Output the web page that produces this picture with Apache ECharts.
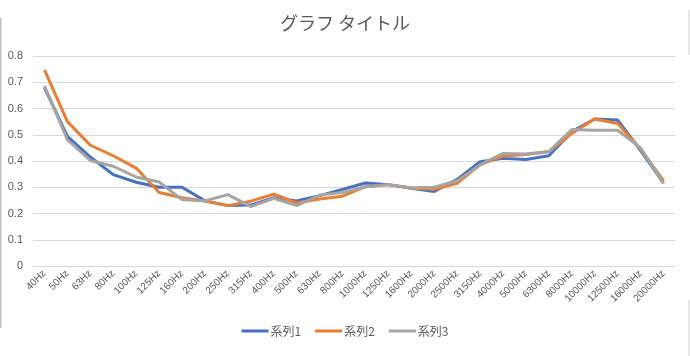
<!DOCTYPE html>
<html>
<head>
<meta charset="utf-8">
<script src="https://cdn.jsdelivr.net/npm/echarts@6/dist/echarts.min.js"></script>
<style>
html,body{margin:0;padding:0;background:#fff;}
#c{width:690px;height:356px;}
</style>
</head>
<body>
<div id="c"></div>
<script>
const categories = ['40Hz','50Hz','63Hz','80Hz','100Hz','125Hz','160Hz','200Hz','250Hz','315Hz','400Hz','500Hz','630Hz','800Hz','1000Hz','1250Hz','1600Hz','2000Hz','2500Hz','3150Hz','4000Hz','5000Hz','6300Hz','8000Hz','10000Hz','12500Hz','16000Hz','20000Hz'];
const series1 = [0.68,0.494,0.415,0.348,0.319,0.300,0.300,0.248,0.230,0.232,0.260,0.248,0.268,0.292,0.316,0.310,0.296,0.284,0.330,0.397,0.410,0.406,0.420,0.512,0.560,0.556,0.440,0.316];
const series2 = [0.747,0.550,0.460,0.420,0.373,0.280,0.260,0.248,0.230,0.247,0.274,0.240,0.255,0.266,0.302,0.310,0.296,0.292,0.315,0.386,0.419,0.425,0.435,0.505,0.560,0.543,0.445,0.325];
const series3 = [0.686,0.481,0.402,0.380,0.339,0.320,0.253,0.248,0.272,0.226,0.258,0.230,0.270,0.280,0.302,0.310,0.298,0.300,0.325,0.385,0.429,0.427,0.436,0.520,0.517,0.517,0.450,0.315];
const yTicks = [0,0.1,0.2,0.3,0.4,0.5,0.6,0.7,0.8];
const seriesNames = ['系列1','系列2','系列3'];

const font = 'Noto Sans CJK JP';
const chart = echarts.init(document.getElementById('c'));
chart.setOption({
  animation:false,
  backgroundColor:'#fff',
  textStyle:{fontFamily:font},
  title:{
    text:'グラフ タイトル',
    left:'center',
    top:9,
    textStyle:{fontFamily:font,fontSize:18,fontWeight:'normal',color:'#595959'}
  },
  legend:{
    bottom:14,
    left:'center',
    itemWidth:27,
    itemHeight:3,
    itemGap:14,
    icon:'rect',
    textStyle:{fontFamily:font,fontSize:12,color:'#595959',padding:[0,0,0,-3]},
    data:seriesNames
  },
  grid:{left:33,right:15,top:56,bottom:90,containLabel:false},
  xAxis:{
    type:'category',
    data:categories,
    boundaryGap:true,
    axisLine:{show:true,lineStyle:{color:'#D9D9D9',width:1}},
    axisTick:{show:false},
    axisLabel:{rotate:45,fontSize:10,color:'#595959',margin:6,interval:0,fontFamily:'Liberation Sans'}
  },
  yAxis:{
    type:'value',
    min:yTicks[0],
    max:yTicks[yTicks.length-1],
    interval:0.1,
    axisLine:{show:false},
    axisTick:{show:false},
    splitLine:{lineStyle:{color:'#D9D9D9',width:1}},
    axisLabel:{fontSize:11,color:'#595959',margin:10,fontFamily:'Liberation Sans',
      formatter:v=>String(Math.round(v*10)/10)}
  },
  graphic:[
    {type:'line',shape:{x1:0.5,y1:18,x2:0.5,y2:328},style:{stroke:'#BFBFBF',lineWidth:2}},
    {type:'line',shape:{x1:689,y1:10,x2:689,y2:55},style:{stroke:'#D0D0D0',lineWidth:1}},
    {type:'line',shape:{x1:689,y1:300,x2:689,y2:356},style:{stroke:'#D0D0D0',lineWidth:1}}
  ],
  series:[
    {name:seriesNames[0],type:'line',data:series1,showSymbol:false,symbol:'none',color:'#4472C4',lineStyle:{width:3,color:'#4472C4'},z:3},
    {name:seriesNames[1],type:'line',data:series2,showSymbol:false,symbol:'none',color:'#ED7D31',lineStyle:{width:3,color:'#ED7D31'},z:4},
    {name:seriesNames[2],type:'line',data:series3,showSymbol:false,symbol:'none',color:'#A5A5A5',lineStyle:{width:3,color:'#A5A5A5'},z:5}
  ]
});
</script>
</body>
</html>
